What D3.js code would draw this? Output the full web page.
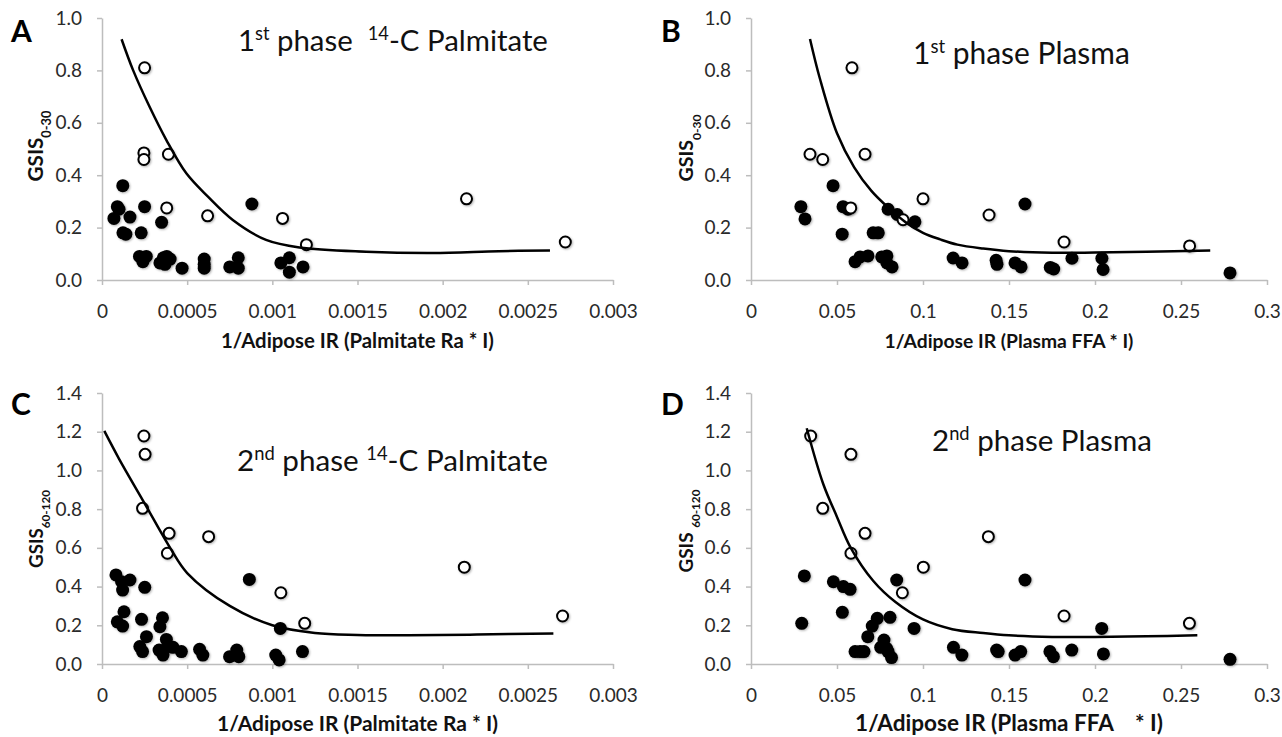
<!DOCTYPE html>
<html>
<head>
<meta charset="utf-8">
<script src="https://cdn.jsdelivr.net/npm/d3@7"></script>
<style>
  body { margin: 0; background: #fff; }
  text { font-family: Lato, "Open Sans", sans-serif; white-space: pre; }
</style>
</head>
<body>
<svg id="chart" width="1282" height="737"></svg>
<script>
// ---- tick values / labels ----
const palmTicks = [0, 0.0005, 0.001, 0.0015, 0.002, 0.0025, 0.003];
const palmTickLabels = ['0', '0.0005', '0.001', '0.0015', '0.002', '0.0025', '0.003'];
const plasmaTicks = [0, 0.05, 0.1, 0.15, 0.2, 0.25, 0.3];
const plasmaTickLabels = ['0', '0.05', '0.1', '0.15', '0.2', '0.25', '0.3'];
const gsis1Ticks = [0, 0.2, 0.4, 0.6, 0.8, 1.0];
const gsis1TickLabels = ['0.0', '0.2', '0.4', '0.6', '0.8', '1.0'];
const gsis2Ticks = [0, 0.2, 0.4, 0.6, 0.8, 1.0, 1.2, 1.4];
const gsis2TickLabels = ['0.0', '0.2', '0.4', '0.6', '0.8', '1.0', '1.2', '1.4'];

// ---- A: 1st phase 14-C palmitate ----
const aOpen = [[0.00025, 0.81], [0.000246, 0.485], [0.000246, 0.46], [0.00039, 0.48], [0.00038, 0.275],
  [0.00062, 0.245], [0.00106, 0.235], [0.0012, 0.135], [0.00214, 0.31], [0.00272, 0.145]];
const aFilled = [[0.000122, 0.36], [0.00009, 0.28], [0.0001, 0.27], [0.000164, 0.24], [0.00007, 0.235],
  [0.000123, 0.18], [0.00014, 0.175], [0.00025, 0.28], [0.00023, 0.18], [0.00035, 0.22], [0.00088, 0.29],
  [0.00022, 0.09], [0.00026, 0.09], [0.00024, 0.07], [0.00034, 0.065], [0.00036, 0.085], [0.00038, 0.09],
  [0.0004, 0.08], [0.00037, 0.06], [0.00047, 0.045], [0.0006, 0.08], [0.0006, 0.06], [0.0006, 0.045],
  [0.00075, 0.05], [0.0008, 0.085], [0.0008, 0.045], [0.00105, 0.065], [0.0011, 0.085], [0.0011, 0.03],
  [0.00118, 0.05]];
const aCurve = [[0.000115, 0.919], [0.000183, 0.8], [0.00028, 0.66], [0.000378, 0.534], [0.000495, 0.407],
  [0.000622, 0.318], [0.000768, 0.229], [0.000963, 0.153], [0.00116, 0.124], [0.00155, 0.108],
  [0.00194, 0.103], [0.00233, 0.11], [0.00263, 0.113]];

// ---- B: 1st phase plasma ----
const bOpen = [[0.0587, 0.81], [0.0343, 0.48], [0.0417, 0.46], [0.0663, 0.48], [0.058, 0.275],
  [0.0884, 0.23], [0.1, 0.31], [0.1384, 0.248], [0.182, 0.145], [0.255, 0.13]];
const bFilled = [[0.029, 0.28], [0.0314, 0.233], [0.0477, 0.36], [0.0535, 0.28], [0.0564, 0.27],
  [0.053, 0.175], [0.071, 0.18], [0.074, 0.18], [0.0605, 0.07], [0.0634, 0.088], [0.068, 0.092],
  [0.076, 0.088], [0.079, 0.092], [0.079, 0.065], [0.082, 0.05], [0.0797, 0.27], [0.085, 0.25],
  [0.0953, 0.222], [0.1175, 0.084], [0.1227, 0.065], [0.1425, 0.075], [0.143, 0.06], [0.1535, 0.065],
  [0.157, 0.05], [0.1593, 0.29], [0.174, 0.048], [0.176, 0.042], [0.1866, 0.083], [0.204, 0.083],
  [0.2047, 0.04], [0.2785, 0.027]];
const bCurve = [[0.0343, 0.92], [0.04, 0.77], [0.05, 0.56], [0.06, 0.43], [0.07, 0.34], [0.08, 0.275],
  [0.09, 0.22], [0.1, 0.18], [0.11, 0.155], [0.12, 0.135], [0.135, 0.12], [0.15, 0.11], [0.175, 0.104],
  [0.2, 0.105], [0.23, 0.108], [0.267, 0.113]];

// ---- C: 2nd phase 14-C palmitate ----
const cOpen = [[0.000246, 1.178], [0.000253, 1.083], [0.000238, 0.804], [0.000394, 0.675], [0.000384, 0.572],
  [0.000626, 0.658], [0.00105, 0.368], [0.00119, 0.21], [0.002127, 0.5], [0.002704, 0.248]];
const cFilled = [[0.000082, 0.46], [0.000121, 0.382], [0.000115, 0.425], [0.000164, 0.434], [0.000251, 0.396],
  [0.00009, 0.218], [0.000121, 0.196], [0.000129, 0.27], [0.000232, 0.231], [0.000261, 0.141],
  [0.000355, 0.239], [0.00034, 0.193], [0.000222, 0.09], [0.000238, 0.064], [0.000378, 0.127],
  [0.000388, 0.09], [0.000335, 0.072], [0.000417, 0.086], [0.000358, 0.046], [0.000466, 0.064],
  [0.000573, 0.076], [0.000592, 0.046], [0.000749, 0.038], [0.000791, 0.072], [0.000803, 0.038],
  [0.000865, 0.437], [0.00102, 0.046], [0.00104, 0.021], [0.001047, 0.184], [0.001177, 0.064]];
const cCurve = [[0.0000135, 1.204], [0.0001, 1.06], [0.00025, 0.83], [0.0004, 0.6], [0.0005, 0.47],
  [0.00075, 0.3], [0.001, 0.2], [0.00125, 0.16], [0.0015, 0.15], [0.0018, 0.148], [0.0022, 0.152],
  [0.00265, 0.158]];

// ---- D: 2nd phase plasma ----
const dOpen = [[0.0347, 1.178], [0.0581, 1.083], [0.0417, 0.804], [0.0663, 0.675], [0.0581, 0.572],
  [0.1002, 0.5], [0.088, 0.368], [0.138, 0.658], [0.182, 0.248], [0.2549, 0.21]];
const dFilled = [[0.031, 0.455], [0.0295, 0.21], [0.0479, 0.425], [0.0537, 0.4], [0.0576, 0.386],
  [0.0531, 0.267], [0.0847, 0.434], [0.0679, 0.141], [0.0705, 0.196], [0.0734, 0.236], [0.0808, 0.241],
  [0.0773, 0.124], [0.0754, 0.086], [0.0788, 0.081], [0.0797, 0.064], [0.0817, 0.033], [0.0605, 0.064],
  [0.0634, 0.064], [0.0657, 0.064], [0.0948, 0.184], [0.1177, 0.086], [0.1226, 0.046], [0.1428, 0.072],
  [0.1437, 0.064], [0.1535, 0.046], [0.1568, 0.064], [0.1593, 0.434], [0.1738, 0.064], [0.1758, 0.038],
  [0.1865, 0.072], [0.2039, 0.184], [0.2049, 0.052], [0.2785, 0.024]];
const dCurve = [[0.0324, 1.218], [0.042, 0.93], [0.05, 0.76], [0.058, 0.6], [0.071, 0.43], [0.084, 0.32],
  [0.1, 0.23], [0.117, 0.18], [0.135, 0.16], [0.15, 0.148], [0.175, 0.14], [0.2, 0.14], [0.23, 0.143],
  [0.2595, 0.148]];

// ---- panel layout ----
const panels = [
  { letter: 'A', lx: 11, ly: 42, left: 102, right: 613, top: 18, bottom: 280, xMax: 0.003, yMax: 1.0,
    xTicks: palmTicks, xLabels: palmTickLabels, yTicks: gsis1Ticks, yLabels: gsis1TickLabels,
    open: aOpen, filled: aFilled, curve: aCurve,
    title: [['1'], ['st', 'sup'], [' phase  '], ['14', 'sup'], ['-C Palmitate']], tx: 238, ty: 51, tw: 310,
    xTitle: '1/Adipose IR (Palmitate Ra * I)', xtY: 348, xtW: 273,
    yTitle: [['GSIS'], ['0-30', 'sub']], ytX: 43, ytY: 146, ytW: 71 },
  { letter: 'B', lx: 661, ly: 42, left: 751, right: 1267, top: 18, bottom: 280, xMax: 0.3, yMax: 1.0,
    xTicks: plasmaTicks, xLabels: plasmaTickLabels, yTicks: gsis1Ticks, yLabels: gsis1TickLabels,
    open: bOpen, filled: bFilled, curve: bCurve,
    title: [['1'], ['st', 'sup'], [' phase Plasma']], tx: 913, ty: 64, tw: 217,
    xTitle: '1/Adipose IR (Plasma FFA * I)', xtY: 348, xtW: 249,
    yTitle: [['GSIS'], ['0-30', 'sub']], ytX: 693, ytY: 148, ytW: 67 },
  { letter: 'C', lx: 11, ly: 415, left: 102, right: 613, top: 393, bottom: 664, xMax: 0.003, yMax: 1.4,
    xTicks: palmTicks, xLabels: palmTickLabels, yTicks: gsis2Ticks, yLabels: gsis2TickLabels,
    open: cOpen, filled: cFilled, curve: cCurve,
    title: [['2'], ['nd', 'sup'], [' phase '], ['14', 'sup'], ['-C Palmitate']], tx: 237, ty: 471, tw: 311,
    xTitle: '1/Adipose IR (Palmitate Ra * I)', xtY: 731, xtW: 281,
    yTitle: [['GSIS'], ['60-120', 'sub']], ytX: 43, ytY: 529, ytW: 78 },
  { letter: 'D', lx: 661, ly: 415, left: 751, right: 1267, top: 393, bottom: 664, xMax: 0.3, yMax: 1.4,
    xTicks: plasmaTicks, xLabels: plasmaTickLabels, yTicks: gsis2Ticks, yLabels: gsis2TickLabels,
    open: dOpen, filled: dFilled, curve: dCurve,
    title: [['2'], ['nd', 'sup'], [' phase Plasma']], tx: 932, ty: 451, tw: 220,
    xTitle: '1/Adipose IR (Plasma FFA    * I)', xtY: 731, xtW: 308,
    yTitle: [['GSIS '], ['60-120', 'sub']], ytX: 693, ytY: 531, ytW: 83 }
];

const svg = d3.select('#chart');

// soft shadow under the markers, like the office-chart look
const shadow = svg.append('defs').append('filter').attr('id', 'shadow')
  .attr('x', '-50%').attr('y', '-50%').attr('width', '200%').attr('height', '200%');
shadow.append('feDropShadow').attr('dx', 1).attr('dy', 1).attr('stdDeviation', 1)
  .attr('flood-color', '#000').attr('flood-opacity', 0.3);

// scale a text's font size so it spans the given width
function fitWidth(sel, w) {
  const len = sel.node().getComputedTextLength();
  sel.attr('font-size', parseFloat(sel.attr('font-size')) * w / len);
}

function addParts(sel, parts) {
  parts.forEach(([t, kind]) => {
    const ts = sel.append('tspan').text(t);
    if (kind === 'sup') ts.attr('font-size', '0.62em').attr('baseline-shift', 'super');
    if (kind === 'sub') ts.attr('font-size', '0.62em').attr('baseline-shift', 'sub');
  });
}

panels.forEach(p => {
  const x = d3.scaleLinear().domain([0, p.xMax]).range([p.left, p.right]);
  const y = d3.scaleLinear().domain([0, p.yMax]).range([p.bottom, p.top]);
  const g = svg.append('g');

  // axes
  const xg = g.append('g')
    .attr('transform', `translate(0,${p.bottom})`)
    .call(d3.axisBottom(x).tickValues(p.xTicks).tickFormat((d, i) => p.xLabels[i])
      .tickSize(5).tickSizeOuter(0).tickPadding(20));
  const yg = g.append('g')
    .attr('transform', `translate(${p.left},0)`)
    .call(d3.axisLeft(y).tickValues(p.yTicks).tickFormat((d, i) => p.yLabels[i])
      .tickSize(5).tickSizeOuter(0).tickPadding(15));
  [xg, yg].forEach(a => {
    a.attr('font-family', null).attr('font-size', null);
    a.select('.domain').attr('stroke', '#bdbdbd').attr('stroke-width', 1.5);
    a.selectAll('.tick line').attr('stroke', '#bdbdbd').attr('stroke-width', 1.5);
    a.selectAll('.tick text').attr('font-size', 19).attr('fill', '#2a2a2a');
  });

  // points: filled first, open on top, then the fitted line
  g.append('g').selectAll('circle')
    .data(p.filled)
    .join('circle')
    .attr('cx', d => x(d[0]))
    .attr('cy', d => y(d[1]))
    .attr('r', 6.5)
    .attr('fill', '#000')
    .attr('filter', 'url(#shadow)');

  g.append('g').selectAll('circle')
    .data(p.open)
    .join('circle')
    .attr('cx', d => x(d[0]))
    .attr('cy', d => y(d[1]))
    .attr('r', 5.5)
    .attr('fill', '#fff')
    .attr('stroke', '#000')
    .attr('stroke-width', 2)
    .attr('filter', 'url(#shadow)');

  const line = d3.line()
    .x(d => x(d[0]))
    .y(d => y(d[1]))
    .curve(d3.curveCatmullRom.alpha(0.5));
  g.append('path')
    .datum(p.curve)
    .attr('d', line)
    .attr('fill', 'none')
    .attr('stroke', '#000')
    .attr('stroke-width', 2.5);

  // panel letter
  g.append('text')
    .attr('x', p.lx).attr('y', p.ly)
    .attr('font-family', '"Liberation Sans", Arial, sans-serif')
    .attr('font-weight', 'bold')
    .attr('font-size', 30)
    .text(p.letter);

  // title
  const title = g.append('text')
    .attr('x', p.tx).attr('y', p.ty)
    .attr('font-size', 26)
    .attr('fill', '#111');
  addParts(title, p.title);
  fitWidth(title, p.tw);

  // x axis title
  const xt = g.append('text')
    .attr('x', (p.left + p.right) / 2).attr('y', p.xtY)
    .attr('text-anchor', 'middle')
    .attr('font-weight', 'bold')
    .attr('font-size', 16)
    .attr('fill', '#111')
    .text(p.xTitle);
  fitWidth(xt, p.xtW);

  // y axis title
  const yt = g.append('text')
    .attr('transform', `translate(${p.ytX},${p.ytY}) rotate(-90)`)
    .attr('text-anchor', 'middle')
    .attr('font-weight', 'bold')
    .attr('font-size', 17)
    .attr('fill', '#111');
  addParts(yt, p.yTitle);
  fitWidth(yt, p.ytW);
});
</script>
</body>
</html>
